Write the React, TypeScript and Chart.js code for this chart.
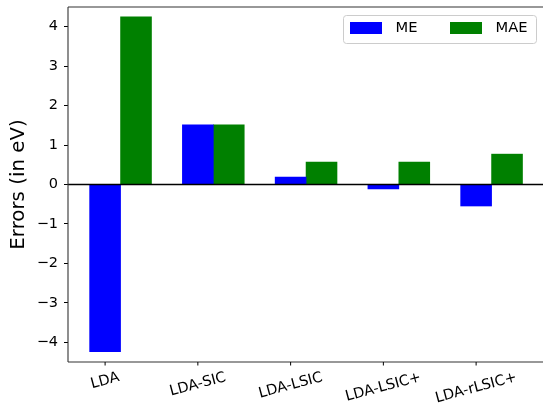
import { useEffect, useRef } from 'react';
import { Chart, registerables } from 'chart.js';

Chart.register(...registerables);

const categories = ['LDA', 'LDA-SIC', 'LDA-LSIC', 'LDA-LSIC+', 'LDA-rLSIC+'];
const meValues = [-4.24, 1.51, 0.19, -0.11, -0.545];
const maeValues = [4.25, 1.51, 0.57, 0.57, 0.77];
const yTicks = [-4, -3, -2, -1, 0, 1, 2, 3, 4];
const seriesNames = ['ME', 'MAE'];
const seriesColors = ['#0000ff', '#008000'];
const yTitle = 'Errors (in eV)';

const BAR_W = 1 / 3;
const FONT = "'DejaVu Sans', sans-serif";
const TICK_FS = 14.5;

const decor = {
  id: 'decor',
  afterDatasetsDraw(chart: any) {
    const { ctx, chartArea: a, scales } = chart;
    const x = scales.x;
    const y = scales.y;
    ctx.save();
    // zero line
    const y0 = y.getPixelForValue(0);
    ctx.strokeStyle = '#000';
    ctx.lineWidth = 1.6;
    ctx.beginPath();
    ctx.moveTo(a.left, y0);
    ctx.lineTo(a.right, y0);
    ctx.stroke();
    // spines
    ctx.strokeStyle = '#333';
    ctx.lineWidth = 1.1;
    ctx.beginPath();
    ctx.moveTo(a.left, a.top);
    ctx.lineTo(a.right, a.top);
    ctx.moveTo(a.left, a.top);
    ctx.lineTo(a.left, a.bottom);
    ctx.moveTo(a.left, a.bottom);
    ctx.lineTo(a.right, a.bottom);
    ctx.stroke();
    // x tick marks and labels
    ctx.strokeStyle = '#000';
    ctx.lineWidth = 1;
    ctx.fillStyle = '#000';
    ctx.font = `${TICK_FS}px ${FONT}`;
    const th = (15 * Math.PI) / 180;
    categories.forEach((c, i) => {
      const px = x.getPixelForValue(i);
      ctx.beginPath();
      ctx.moveTo(px, a.bottom);
      ctx.lineTo(px, a.bottom + 3.5);
      ctx.stroke();
      const w = ctx.measureText(c).width;
      const h = TICK_FS * 1.16;
      const H = w * Math.sin(th) + h * Math.cos(th);
      const cy = a.bottom + 7 + H / 2;
      ctx.save();
      ctx.translate(px, cy);
      ctx.rotate(-th);
      ctx.textAlign = 'center';
      ctx.textBaseline = 'middle';
      ctx.fillText(c, 0, 0);
      ctx.restore();
    });
    // legend
    const bx = a.right - 200;
    const by = a.top + 8;
    const bw = 193;
    const bh = 28;
    ctx.beginPath();
    ctx.roundRect(bx + 0.5, by + 0.5, bw, bh, 3);
    ctx.fillStyle = 'rgba(255,255,255,0.8)';
    ctx.fill();
    ctx.strokeStyle = '#cccccc';
    ctx.lineWidth = 1;
    ctx.stroke();
    ctx.font = `14.7px ${FONT}`;
    ctx.textAlign = 'left';
    ctx.textBaseline = 'middle';
    seriesNames.forEach((name, k) => {
      const ox = bx + 7 + k * 100;
      ctx.fillStyle = seriesColors[k];
      ctx.fillRect(ox, by + 7, 32, 12);
      ctx.fillStyle = '#000';
      ctx.fillText(name, ox + 45.5, by + 13.5);
    });
    ctx.restore();
  },
};

export default function App() {
  const ref = useRef<HTMLCanvasElement | null>(null);
  useEffect(() => {
    if (!ref.current) return;
    const chart = new Chart(ref.current, {
      type: 'bar',
      data: {
        datasets: [
          {
            label: seriesNames[0],
            data: meValues.map((v, i) => ({ x: i, y: v })),
            backgroundColor: seriesColors[0],
            borderWidth: 0,
            grouped: false,
            categoryPercentage: 1,
            barPercentage: 1,
          },
          {
            label: seriesNames[1],
            data: maeValues.map((v, i) => ({ x: i + BAR_W, y: v })),
            backgroundColor: seriesColors[1],
            borderWidth: 0,
            grouped: false,
            categoryPercentage: 1,
            barPercentage: 1,
          },
        ],
      },
      plugins: [decor],
      options: {
        animation: false,
        responsive: false,
        devicePixelRatio: 1,
        layout: { padding: { top: 7, left: 0, right: 0, bottom: 0 } },
        plugins: { legend: { display: false }, tooltip: { enabled: false } },
        scales: {
          x: {
            type: 'linear',
            offset: false,
            min: -0.4,
            max: 4.721,
            ticks: { display: false },
            grid: { display: false, offset: false },
            border: { display: false },
            afterBuildTicks: (s: any) => {
              s.ticks = categories.map((_, i) => ({ value: i }));
            },
            afterFit: (s: any) => {
              s.height = 45;
              s.paddingLeft = 0;
              s.paddingRight = 0;
            },
          },
          y: {
            type: 'linear',
            min: -4.5,
            max: 4.5,
            afterBuildTicks: (s: any) => {
              s.ticks = yTicks.map((v) => ({ value: v }));
            },
            afterFit: (s: any) => {
              s.width = 68;
              s.paddingTop = 0;
              s.paddingBottom = 0;
            },
            ticks: {
              color: '#000',
              padding: 6,
              font: { family: FONT, size: TICK_FS },
              callback: (v: any) => String(v).replace('-', '\u2212'),
            },
            grid: {
              display: true,
              drawOnChartArea: false,
              drawTicks: true,
              tickLength: 4,
              color: '#000',
              lineWidth: 1,
            },
            border: { display: false },
            title: {
              display: true,
              text: yTitle,
              color: '#000',
              font: { family: FONT, size: 19.8 },
              padding: { top: 7, bottom: 0 },
            },
          },
        },
      },
    } as any);
    return () => chart.destroy();
  }, []);
  return (
    <div style={{ position: 'fixed', left: 0, top: 0, width: 543, height: 407, background: '#fff' }}>
      <canvas ref={ref} width={543} height={407} style={{ display: 'block' }} />
    </div>
  );
}
